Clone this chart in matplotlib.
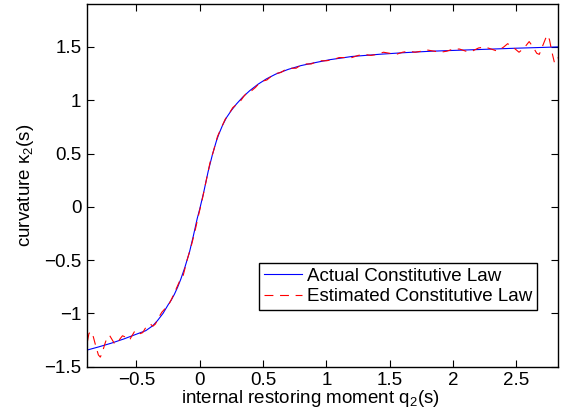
import matplotlib
matplotlib.use("Agg")
import matplotlib.pyplot as plt

plt.rcParams['font.family'] = ['Liberation Sans', 'DejaVu Sans']
plt.rcParams['mathtext.fontset'] = 'custom'
plt.rcParams['mathtext.rm'] = 'Liberation Sans'
plt.rcParams['mathtext.it'] = 'Liberation Sans'

# actual constitutive law
q_actual = [-0.886, -0.8, -0.7, -0.6, -0.5, -0.426, -0.37, -0.334, -0.29, -0.25,
            -0.225, -0.2, -0.175, -0.15, -0.118, -0.08, -0.05, -0.02, 0.0, 0.03,
            0.066, 0.1, 0.132, 0.15, 0.18, 0.21, 0.25, 0.29, 0.34, 0.395,
            0.46, 0.526, 0.6, 0.7, 0.8, 0.9, 1.026, 1.2, 1.42, 1.6,
            1.815, 2.0, 2.263, 2.5, 2.7, 2.828]
k_actual = [-1.343, -1.315, -1.28, -1.24, -1.195, -1.162, -1.115, -1.068, -1.0, -0.92,
            -0.875, -0.82, -0.755, -0.68, -0.57, -0.42, -0.27, -0.11, -0.02, 0.13,
            0.33, 0.49, 0.62, 0.68, 0.765, 0.835, 0.905, 0.965, 1.03, 1.09,
            1.15, 1.20, 1.245, 1.29, 1.325, 1.35, 1.38, 1.41, 1.431, 1.445,
            1.459, 1.467, 1.478, 1.488, 1.495, 1.5]

# estimated constitutive law
q_est = [-0.886, -0.875, -0.86, -0.84, -0.82, -0.80, -0.785, -0.77, -0.75, -0.73,
         -0.71, -0.69, -0.67, -0.65, -0.63, -0.61, -0.59, -0.57, -0.55, -0.53,
         -0.51, -0.49, -0.47, -0.45, -0.43, -0.41, -0.39, -0.37, -0.35, -0.33,
         -0.30, -0.27, -0.25, -0.22, -0.19, -0.16, -0.13, -0.10, -0.07, -0.04,
         -0.01, 0.02, 0.05, 0.08, 0.11, 0.14, 0.17, 0.20, 0.23, 0.26,
         0.29, 0.32, 0.35, 0.38, 0.41, 0.44, 0.47, 0.50, 0.53, 0.56,
         0.60, 0.64, 0.68, 0.72, 0.76, 0.80, 0.84, 0.88, 0.92, 0.96,
         1.00, 1.05, 1.10, 1.15, 1.20, 1.25, 1.30, 1.35, 1.40, 1.45,
         1.50, 1.55, 1.60, 1.65, 1.70, 1.75, 1.80, 1.85, 1.90, 1.95,
         2.00, 2.05, 2.10, 2.15, 2.20, 2.25, 2.30, 2.35, 2.40, 2.43,
         2.47, 2.52, 2.56, 2.60, 2.63, 2.66, 2.68, 2.71, 2.74, 2.76,
         2.78, 2.80, 2.815, 2.828]
k_est = [-1.26, -1.19, -1.17, -1.22, -1.31, -1.39, -1.41, -1.37, -1.29, -1.22,
         -1.21, -1.25, -1.29, -1.28, -1.24, -1.21, -1.22, -1.25, -1.24, -1.20,
         -1.16, -1.17, -1.19, -1.18, -1.14, -1.11, -1.10, -1.12, -1.10, -1.05,
         -0.99, -0.95, -0.93, -0.86, -0.78, -0.70, -0.64, -0.50, -0.38, -0.24,
         -0.08, 0.07, 0.24, 0.41, 0.53, 0.66, 0.74, 0.82, 0.87, 0.93,
         0.96, 0.99, 1.04, 1.08, 1.09, 1.12, 1.16, 1.18, 1.19, 1.22,
         1.25, 1.26, 1.29, 1.30, 1.30, 1.33, 1.34, 1.34, 1.36, 1.37,
         1.37, 1.38, 1.40, 1.40, 1.40, 1.42, 1.43, 1.42, 1.43, 1.45,
         1.44, 1.43, 1.45, 1.46, 1.45, 1.46, 1.47, 1.46, 1.45, 1.46,
         1.48, 1.48, 1.46, 1.46, 1.49, 1.50, 1.48, 1.46, 1.50, 1.53,
         1.50, 1.45, 1.49, 1.55, 1.50, 1.44, 1.43, 1.52, 1.61, 1.57,
         1.45, 1.35, 1.36, 1.40]

x_ticks = [-0.5, 0, 0.5, 1, 1.5, 2, 2.5]
y_ticks = [-1.5, -1, -0.5, 0, 0.5, 1, 1.5]

fig = plt.figure(figsize=(5.69, 4.15), dpi=100)
ax = fig.add_axes([0.1529, 0.1164, 0.8283, 0.8733])

ax.plot(q_actual, k_actual, color='#0000ff', lw=0.8, label='Actual Constitutive Law')
ax.plot(q_est, k_est, color='#ff0000', lw=0.8, linestyle=(0, (8, 6)),
        label='Estimated Constitutive Law')

ax.set_xlim(-0.89, 2.83)
ax.set_ylim(-1.5, 1.9)
ax.set_xticks(x_ticks)
ax.set_xticklabels(['\u22120.5', '0', '0.5', '1', '1.5', '2', '2.5'])
ax.set_yticks(y_ticks)
ax.set_yticklabels(['\u22121.5', '\u22121', '\u22120.5', '0', '0.5', '1', '1.5'])
ax.tick_params(direction='in', top=True, right=True, labelsize=13.5, length=5, width=0.8, pad=4)
for s in ax.spines.values():
    s.set_linewidth(1.0)

ax.set_xlabel('internal restoring moment q$_2$(s)', fontsize=13.5, labelpad=-1)
ax.xaxis.label.set_x(0.475)
ax.set_ylabel('curvature \u03ba$_2$(s)', fontsize=13.5, labelpad=6)

leg = ax.legend(loc='lower right', bbox_to_anchor=(0.955, 0.156), fontsize=13.5,
                fancybox=False, framealpha=1, edgecolor='black',
                handlelength=2.0, borderpad=0.25, labelspacing=0.2, handletextpad=0.3,
                borderaxespad=0)
leg.get_frame().set_linewidth(1.0)

fig.savefig('out.png', dpi=100)
